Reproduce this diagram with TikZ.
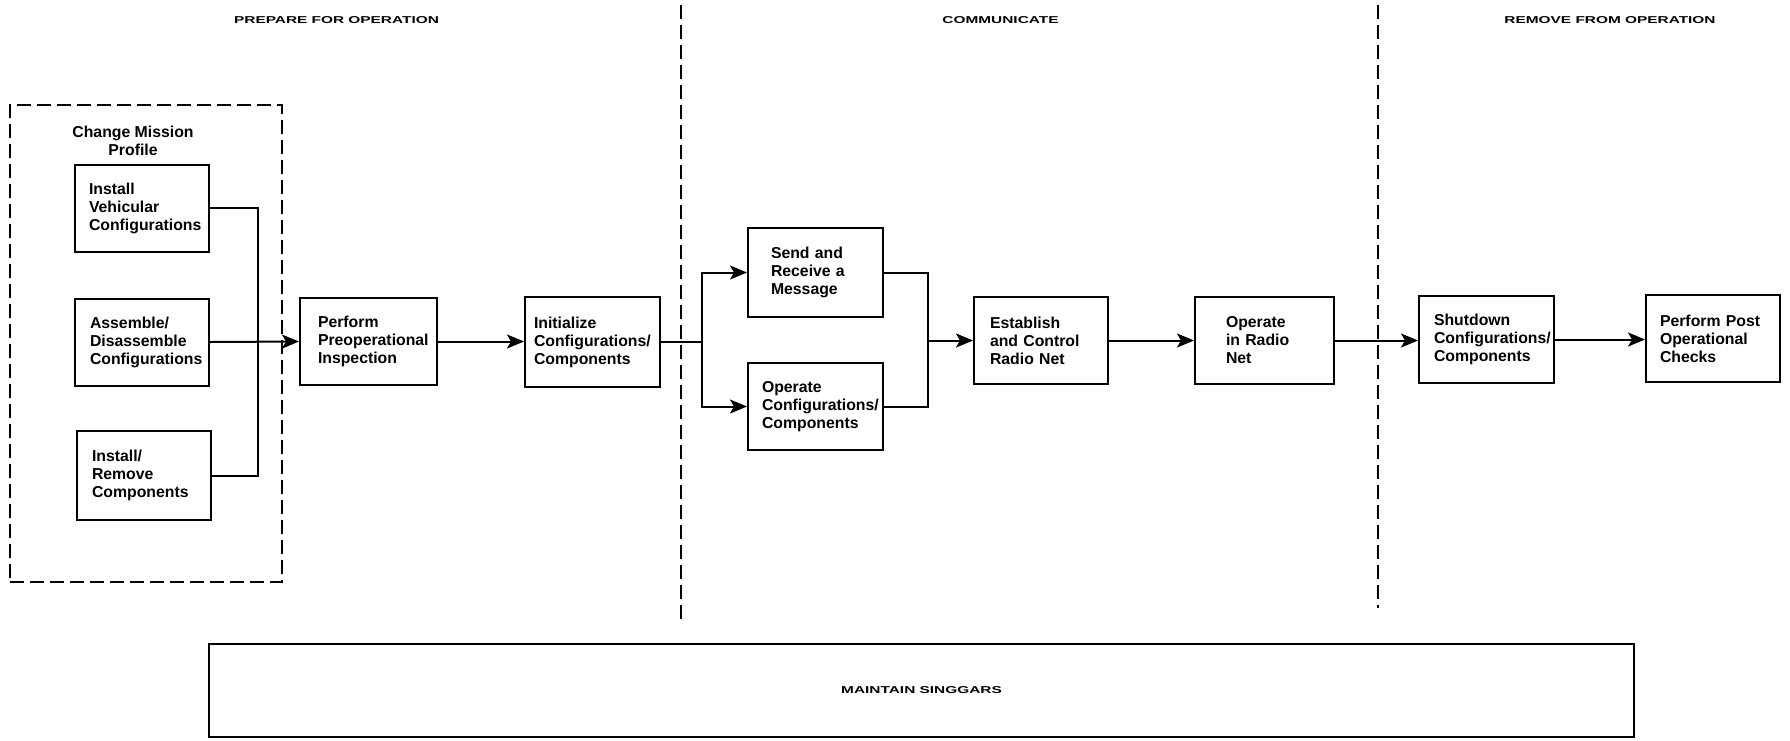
\documentclass[tikz,border=0pt]{standalone}
\usepackage{fontspec}
\setmainfont{Liberation Sans}
\usepackage{graphicx}
\usetikzlibrary{arrows.meta}
\hyphenpenalty=10000
\exhyphenpenalty=10000
\newcommand\hdtxt[1]{\scalebox{1.54}[1]{#1}}
\tikzset{
  box/.style={draw, line width=2pt, align=left, minimum height=87pt, inner ysep=0pt,
    font=\fontsize{15.8}{18}\selectfont\bfseries},
  hdr/.style={font=\fontsize{10}{12}\selectfont\bfseries, inner sep=0pt},
  conn/.style={line width=2pt},
  arr/.style={conn, -{Stealth[length=17pt,width=14pt,inset=4pt]}},
  dashline/.style={line width=2pt, dash pattern=on 14pt off 6pt},
}
\begin{document}
\begin{tikzpicture}[x=1pt,y=-1pt]
\useasboundingbox (0,0) rectangle (1790,740);
% phase headers
\node[hdr] (h1) at (336.5,20) {\hdtxt{PREPARE FOR OPERATION}};
\node[hdr] (h2) at (1000.5,20) {\hdtxt{COMMUNICATE}};
\node[hdr] (h3) at (1610,20) {\hdtxt{REMOVE FROM OPERATION}};
% dividers
\coordinate (d1t) at (681,5); \coordinate (d1b) at (681,620);
\coordinate (d2t) at (1378,5); \coordinate (d2b) at (1378,608);
\draw[dashline] (d1t) -- (d1b);
\draw[dashline] (d2t) -- (d2b);
% dashed group
\node[draw, dashline, minimum width=272pt, minimum height=477pt, inner sep=0pt] (grp) at (146,343.5) {};
\node[font=\fontsize{15.8}{18}\selectfont\bfseries, align=center, inner sep=0pt] (cmp) at (133,141) {Change Mission\\Profile};
% boxes
\node[box, minimum width=134pt, text width=106pt, inner xsep=14pt] (b1) at (142,208) {Install\\Vehicular\\Configurations};
\node[box, minimum width=134pt, text width=104pt, inner xsep=15pt] (b2) at (142,342) {Assemble/\\Disassemble\\Configurations};
\node[box, minimum width=134pt, minimum height=89pt, text width=104pt, inner xsep=15pt] (b3) at (144,475.5) {Install/\\Remove\\Components};
\node[box, minimum width=137pt, text width=101pt, inner xsep=18pt] (perform) at (368.5,341.5) {Perform\\Preoperational\\Inspection};
\node[box, minimum width=135pt, minimum height=90pt, text width=117pt, inner xsep=9pt] (init) at (592.5,342) {Initialize\\Configurations/\\Components};
\node[box, minimum width=135pt, minimum height=89pt, text width=89pt, inner xsep=23pt] (send) at (815.5,272.5) {Send and\\Receive a\\Message};
\node[box, minimum width=135pt, text width=107pt, inner xsep=14pt] (opcomp) at (815.5,406.5) {Operate\\Configurations/\\Components};
\node[box, minimum width=134pt, text width=102pt, inner xsep=16pt] (estab) at (1041,340.5) {Establish\\and Control\\Radio Net};
\node[box, minimum width=139pt, text width=77pt, inner xsep=31pt] (opradio) at (1264.5,340.5) {Operate\\in Radio\\Net};
\node[box, minimum width=135pt, text width=105pt, inner xsep=15pt] (shut) at (1486.5,339.5) {Shutdown\\Configurations/\\Components};
\node[box, minimum width=134pt, text width=106pt, inner xsep=14pt] (post) at (1713,338.5) {Perform Post\\Operational\\Checks};
% maintain
\node[draw, line width=2pt, minimum width=1425pt, minimum height=93pt, hdr] (maint) at (921.5,690) {\hdtxt{MAINTAIN SINGGARS}};
% connectors
\coordinate (j1) at (258,342);
\draw[conn] (b1.east) -| (j1) |- (b3.east);
\draw[arr] (b2.east) -- (perform.west);
\draw[arr] (perform.east) -- (perform.east -| init.west);
\coordinate (s1) at (702,342);
\draw[conn] (init.east) -- (s1);
\draw[arr] (s1) |- (send.west);
\draw[arr] (s1) |- (opcomp.west);
\coordinate (m1) at (928,340.5);
\draw[conn] (send.east) -| (m1) |- (opcomp.east);
\draw[arr] (m1) -- (estab.west);
\draw[arr] (estab.east) -- (estab.east -| opradio.west);
\draw[arr] (opradio.east) -- (opradio.east -| shut.west);
\draw[arr] (shut.east) -- (shut.east -| post.west);
\end{tikzpicture}
\end{document}
